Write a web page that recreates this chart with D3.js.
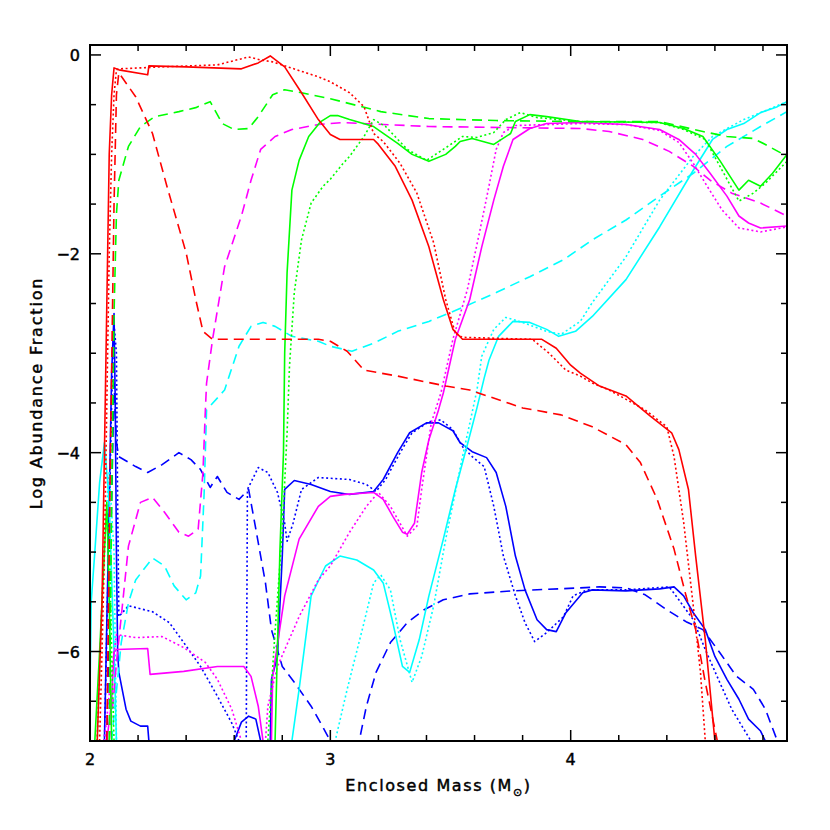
<!DOCTYPE html>
<html><head><meta charset="utf-8">
<script src="https://cdn.jsdelivr.net/npm/d3@7/dist/d3.min.js"></script>
<style>body{margin:0;background:#fff}</style>
</head><body>
<svg id="chart" width="830" height="830"></svg>
<script>
// ---------- data (Enclosed Mass [Msun], Log Abundance Fraction) ----------
const xDomain = [2, 4.9];
const yDomain = [-6.9, 0.1];
const xTickLabels = [2, 3, 4];
const yTickLabels = [0, -2, -4, -6];
const OFF = -7.5; // below the plotted range (clipped)

const redSolid = [[2.03,-6.9],[2.04,-6.2],[2.05,-5.5],[2.06,-4.0],[2.07,-2.5],[2.08,-1.0],[2.09,-0.4],[2.1,-0.13],[2.12,-0.15],[2.24,-0.2],[2.245,-0.11],[2.4,-0.12],[2.63,-0.14],[2.7,-0.08],[2.75,-0.01],[2.81,-0.12],[2.88,-0.38],[2.95,-0.65],[3.0,-0.8],[3.04,-0.85],[3.18,-0.85],[3.2,-0.9],[3.27,-1.12],[3.34,-1.46],[3.41,-1.93],[3.47,-2.46],[3.51,-2.76],[3.55,-2.86],[3.88,-2.86],[3.94,-2.95],[4.0,-3.12],[4.04,-3.2],[4.12,-3.33],[4.23,-3.43],[4.33,-3.63],[4.42,-3.8],[4.45,-3.97],[4.49,-4.37],[4.52,-5.04],[4.56,-5.88],[4.6,-6.9]];
const redDotted = [[2.04,-6.9],[2.05,-6.0],[2.06,-5.0],[2.07,-3.5],[2.08,-2.0],[2.09,-1.0],[2.1,-0.4],[2.11,-0.15],[2.12,-0.14],[2.3,-0.12],[2.53,-0.1],[2.66,-0.02],[2.71,-0.05],[2.76,-0.07],[2.95,-0.22],[3.0,-0.27],[3.08,-0.38],[3.14,-0.52],[3.18,-0.79],[3.22,-0.87],[3.29,-1.09],[3.36,-1.39],[3.43,-1.89],[3.48,-2.46],[3.52,-2.8],[3.55,-2.84],[3.84,-2.86],[3.91,-3.0],[3.98,-3.17],[4.04,-3.23],[4.09,-3.3],[4.16,-3.37],[4.22,-3.45],[4.31,-3.57],[4.4,-3.74],[4.43,-4.04],[4.47,-4.7],[4.51,-5.54],[4.54,-6.21],[4.56,-6.9]];
const redDashed = [[2.07,-6.9],[2.085,-4.0],[2.1,-1.5],[2.11,-0.4],[2.12,-0.18],[2.19,-0.42],[2.26,-0.79],[2.32,-1.32],[2.4,-1.99],[2.44,-2.46],[2.47,-2.78],[2.51,-2.86],[2.95,-2.86],[3.0,-2.88],[3.07,-2.98],[3.14,-3.17],[3.28,-3.23],[3.48,-3.33],[3.58,-3.37],[3.8,-3.55],[3.96,-3.62],[4.09,-3.74],[4.23,-3.92],[4.29,-4.1],[4.36,-4.47],[4.43,-4.97],[4.48,-5.44],[4.52,-5.78],[4.56,-6.31],[4.61,-6.9]];

const greenSolid = [[2.02,-6.9],[2.04,-6.0],[2.06,-5.0],[2.07,-4.5],[2.08,-5.5],[2.09,-6.9],[2.1,OFF],[2.76,OFF],[2.77,-6.9],[2.79,-5.0],[2.805,-4.0],[2.81,-3.0],[2.82,-2.19],[2.84,-1.36],[2.87,-1.06],[2.91,-0.82],[2.96,-0.67],[3.0,-0.61],[3.03,-0.61],[3.08,-0.65],[3.18,-0.72],[3.28,-0.89],[3.34,-1.0],[3.41,-1.07],[3.48,-1.0],[3.52,-0.92],[3.54,-0.87],[3.59,-0.84],[3.68,-0.9],[3.75,-0.79],[3.77,-0.67],[3.83,-0.6],[3.9,-0.62],[4.04,-0.67],[4.37,-0.68],[4.47,-0.74],[4.55,-0.82],[4.62,-1.06],[4.7,-1.36],[4.74,-1.26],[4.79,-1.32],[4.84,-1.19],[4.9,-1.0]];
const greenDotted = [[2.03,-6.9],[2.05,-5.5],[2.06,-4.9],[2.07,-4.6],[2.08,-4.8],[2.09,-6.0],[2.1,-6.9],[2.11,OFF],[2.73,OFF],[2.74,-6.9],[2.77,-5.8],[2.8,-4.8],[2.82,-3.8],[2.83,-3.13],[2.85,-2.39],[2.88,-1.86],[2.92,-1.49],[2.97,-1.32],[3.0,-1.25],[3.05,-1.1],[3.08,-1.02],[3.14,-0.82],[3.18,-0.65],[3.23,-0.72],[3.32,-0.95],[3.4,-1.06],[3.47,-0.95],[3.55,-0.82],[3.61,-0.83],[3.68,-0.78],[3.73,-0.65],[3.79,-0.58],[3.86,-0.63],[4.04,-0.67],[4.37,-0.68],[4.47,-0.75],[4.56,-0.85],[4.63,-1.16],[4.7,-1.47],[4.76,-1.39],[4.81,-1.29],[4.9,-1.07]];
const greenDashed = [[2.08,-6.9],[2.09,-4.5],[2.1,-2.6],[2.11,-1.6],[2.12,-1.26],[2.16,-0.92],[2.21,-0.72],[2.27,-0.62],[2.37,-0.57],[2.44,-0.53],[2.5,-0.47],[2.55,-0.69],[2.6,-0.75],[2.66,-0.74],[2.7,-0.62],[2.76,-0.4],[2.81,-0.35],[2.88,-0.38],[3.0,-0.44],[3.21,-0.57],[3.41,-0.64],[3.69,-0.66],[4.04,-0.67],[4.37,-0.67],[4.55,-0.77],[4.65,-0.82],[4.76,-0.84],[4.81,-0.9],[4.9,-1.02]];

const magentaSolid = [[2.07,-6.9],[2.09,-6.5],[2.1,-6.0],[2.11,-5.98],[2.24,-5.97],[2.25,-6.23],[2.39,-6.2],[2.53,-6.15],[2.64,-6.15],[2.67,-6.25],[2.7,-6.55],[2.72,-6.9],[2.73,OFF],[2.75,OFF],[2.755,-6.9],[2.76,-6.25],[2.81,-5.44],[2.87,-4.87],[2.95,-4.54],[3.0,-4.44],[3.06,-4.42],[3.18,-4.4],[3.22,-4.47],[3.26,-4.64],[3.3,-4.8],[3.32,-4.82],[3.35,-4.71],[3.38,-4.2],[3.41,-3.87],[3.45,-3.57],[3.47,-3.4],[3.52,-2.86],[3.58,-2.46],[3.63,-1.93],[3.68,-1.46],[3.72,-1.12],[3.76,-0.85],[3.83,-0.74],[3.9,-0.69],[4.04,-0.68],[4.23,-0.7],[4.37,-0.75],[4.45,-0.85],[4.52,-1.0],[4.58,-1.19],[4.65,-1.42],[4.7,-1.62],[4.74,-1.69],[4.79,-1.74],[4.9,-1.72]];
const magentaDotted = [[2.06,-6.9],[2.09,-6.2],[2.11,-5.83],[2.19,-5.86],[2.3,-5.85],[2.39,-5.96],[2.48,-6.11],[2.53,-6.28],[2.59,-6.58],[2.63,-6.9],[2.64,OFF],[2.72,OFF],[2.73,-6.9],[2.74,-6.55],[2.78,-6.15],[2.87,-5.65],[2.95,-5.28],[3.0,-5.14],[3.08,-4.8],[3.15,-4.54],[3.2,-4.4],[3.25,-4.54],[3.29,-4.71],[3.32,-4.84],[3.36,-4.74],[3.38,-4.37],[3.42,-3.7],[3.46,-3.4],[3.51,-2.86],[3.57,-2.36],[3.62,-1.79],[3.66,-1.32],[3.69,-0.95],[3.72,-0.78],[3.77,-0.71],[4.04,-0.69],[4.23,-0.7],[4.37,-0.76],[4.45,-0.88],[4.51,-1.09],[4.56,-1.29],[4.63,-1.56],[4.7,-1.74],[4.79,-1.78],[4.9,-1.73]];
const magentaDashed = [[2.08,-6.9],[2.1,-6.4],[2.11,-6.11],[2.13,-5.65],[2.16,-4.94],[2.21,-4.5],[2.26,-4.45],[2.31,-4.6],[2.37,-4.8],[2.41,-4.84],[2.45,-4.77],[2.47,-4.2],[2.48,-3.57],[2.485,-3.3],[2.51,-2.86],[2.56,-2.13],[2.63,-1.62],[2.67,-1.26],[2.71,-0.95],[2.77,-0.82],[2.84,-0.75],[2.95,-0.7],[3.05,-0.68],[3.41,-0.72],[4.04,-0.74],[4.16,-0.77],[4.3,-0.85],[4.41,-0.97],[4.51,-1.12],[4.58,-1.26],[4.67,-1.39],[4.79,-1.49],[4.9,-1.62]];

const cyanSolid = [[2.0,-6.4],[2.005,-5.5],[2.02,-5.0],[2.04,-4.3],[2.06,-3.9],[2.08,-4.5],[2.1,-6.0],[2.11,-6.9],[2.12,OFF],[2.83,OFF],[2.84,-6.9],[2.87,-6.38],[2.92,-5.44],[2.98,-5.14],[3.04,-5.04],[3.11,-5.08],[3.18,-5.18],[3.22,-5.31],[3.26,-5.71],[3.3,-6.15],[3.33,-6.21],[3.37,-5.88],[3.41,-5.44],[3.47,-4.87],[3.52,-4.37],[3.57,-3.92],[3.61,-3.55],[3.64,-3.25],[3.66,-3.07],[3.7,-2.83],[3.76,-2.68],[3.83,-2.69],[3.9,-2.76],[3.95,-2.83],[4.02,-2.78],[4.09,-2.63],[4.23,-2.26],[4.37,-1.73],[4.51,-1.16],[4.59,-0.85],[4.65,-0.75],[4.72,-0.69],[4.79,-0.58],[4.86,-0.52],[4.9,-0.47]];
const cyanDotted = [[2.03,-6.9],[2.05,-5.5],[2.07,-4.5],[2.08,-4.2],[2.1,-5.0],[2.11,-6.9],[2.12,OFF],[3.01,OFF],[3.02,-6.9],[3.07,-6.38],[3.14,-5.71],[3.18,-5.31],[3.21,-5.23],[3.25,-5.38],[3.29,-5.88],[3.34,-6.31],[3.38,-6.05],[3.43,-5.54],[3.48,-4.87],[3.55,-4.04],[3.61,-3.37],[3.63,-3.03],[3.68,-2.76],[3.73,-2.64],[3.8,-2.69],[3.9,-2.78],[3.96,-2.81],[4.04,-2.68],[4.09,-2.49],[4.23,-2.03],[4.37,-1.46],[4.51,-1.02],[4.59,-0.82],[4.72,-0.65],[4.9,-0.47]];
const cyanDashed = [[2.09,-6.9],[2.11,-6.4],[2.13,-5.91],[2.16,-5.51],[2.19,-5.28],[2.26,-5.06],[2.31,-5.14],[2.35,-5.34],[2.4,-5.48],[2.44,-5.41],[2.46,-5.24],[2.475,-4.4],[2.485,-3.57],[2.56,-3.37],[2.62,-2.93],[2.67,-2.73],[2.72,-2.69],[2.77,-2.73],[2.84,-2.83],[2.95,-2.88],[3.0,-2.93],[3.09,-2.98],[3.18,-2.9],[3.28,-2.78],[3.41,-2.68],[3.55,-2.54],[3.69,-2.39],[3.83,-2.23],[3.97,-2.06],[4.09,-1.86],[4.23,-1.66],[4.37,-1.42],[4.51,-1.19],[4.65,-0.92],[4.79,-0.72],[4.9,-0.57]];

const blueSolid = [[2.06,-6.9],[2.08,-4.5],[2.09,-3.2],[2.1,-2.6],[2.105,-3.5],[2.11,-5.0],[2.115,-6.0],[2.12,-6.21],[2.15,-6.58],[2.17,-6.7],[2.21,-6.75],[2.24,-6.75],[2.245,-6.9],[2.25,OFF],[2.59,OFF],[2.6,-6.9],[2.63,-6.71],[2.66,-6.65],[2.69,-6.68],[2.71,-6.9],[2.72,OFF],[2.74,OFF],[2.75,-6.9],[2.755,-6.28],[2.78,-6.05],[2.8,-5.04],[2.81,-4.37],[2.85,-4.28],[2.92,-4.32],[3.0,-4.39],[3.08,-4.42],[3.18,-4.39],[3.22,-4.27],[3.28,-4.0],[3.33,-3.8],[3.4,-3.7],[3.45,-3.7],[3.51,-3.78],[3.54,-3.9],[3.59,-3.99],[3.65,-4.05],[3.69,-4.2],[3.73,-4.54],[3.77,-5.04],[3.81,-5.38],[3.86,-5.68],[3.9,-5.78],[3.94,-5.8],[3.98,-5.61],[4.05,-5.41],[4.09,-5.38],[4.23,-5.39],[4.37,-5.37],[4.43,-5.35],[4.47,-5.44],[4.51,-5.61],[4.56,-5.78],[4.6,-6.05],[4.65,-6.28],[4.7,-6.48],[4.74,-6.68],[4.79,-6.8],[4.81,-6.9]];
const blueDotted = [[2.06,-6.9],[2.09,-3.5],[2.1,-2.7],[2.11,-3.0],[2.115,-4.5],[2.12,-5.65],[2.16,-5.54],[2.26,-5.6],[2.33,-5.71],[2.39,-5.91],[2.46,-6.15],[2.53,-6.45],[2.59,-6.72],[2.62,-6.9],[2.63,OFF],[2.645,OFF],[2.65,-6.9],[2.655,-4.37],[2.7,-4.15],[2.74,-4.2],[2.78,-4.4],[2.81,-4.71],[2.82,-4.89],[2.845,-4.71],[2.88,-4.37],[2.95,-4.25],[3.08,-4.27],[3.15,-4.32],[3.19,-4.39],[3.23,-4.27],[3.29,-4.0],[3.34,-3.8],[3.41,-3.69],[3.46,-3.67],[3.51,-3.77],[3.55,-3.94],[3.59,-4.04],[3.64,-4.14],[3.68,-4.54],[3.72,-5.04],[3.77,-5.44],[3.81,-5.71],[3.85,-5.9],[3.9,-5.81],[3.97,-5.65],[4.01,-5.44],[4.07,-5.38],[4.23,-5.38],[4.41,-5.35],[4.45,-5.48],[4.51,-5.68],[4.56,-5.98],[4.62,-6.31],[4.67,-6.58],[4.72,-6.78],[4.75,-6.9]];
const blueDashed = [[2.07,-6.9],[2.09,-4.5],[2.1,-3.3],[2.11,-3.9],[2.12,-4.04],[2.19,-4.14],[2.24,-4.2],[2.3,-4.12],[2.37,-4.0],[2.42,-4.07],[2.46,-4.17],[2.5,-4.35],[2.53,-4.24],[2.57,-4.4],[2.62,-4.47],[2.66,-4.37],[2.69,-4.77],[2.73,-5.31],[2.755,-5.78],[2.8,-6.15],[2.85,-6.31],[2.92,-6.55],[2.96,-6.72],[3.0,-6.9],[3.02,OFF],[3.1,OFF],[3.12,-6.9],[3.15,-6.55],[3.19,-6.21],[3.25,-5.91],[3.32,-5.71],[3.39,-5.58],[3.47,-5.48],[3.58,-5.42],[3.76,-5.39],[4.04,-5.36],[4.12,-5.35],[4.23,-5.36],[4.31,-5.43],[4.4,-5.58],[4.48,-5.7],[4.55,-5.78],[4.62,-6.01],[4.69,-6.25],[4.76,-6.38],[4.81,-6.58],[4.86,-6.9]];

// ---------- styling (kept apart from the data) ----------
const COLORS = {red:'#ff0000', green:'#00ff00', magenta:'#ff00ff', cyan:'#00ffff', blue:'#0000ff'};
const DASH = {solid:null, dotted:'2,2.6', dashed:'10,6'};
const series = [
  [blueSolid,'blue','solid'],[blueDotted,'blue','dotted'],[blueDashed,'blue','dashed'],
  [cyanSolid,'cyan','solid'],[cyanDotted,'cyan','dotted'],[cyanDashed,'cyan','dashed'],
  [magentaSolid,'magenta','solid'],[magentaDotted,'magenta','dotted'],[magentaDashed,'magenta','dashed'],
  [greenSolid,'green','solid'],[greenDotted,'green','dotted'],[greenDashed,'green','dashed'],
  [redSolid,'red','solid'],[redDotted,'red','dotted'],[redDashed,'red','dashed']
];

// ---------- layout ----------
const L = 90, R = 787, T = 45, B = 741;
const svg = d3.select('#chart');
const x = d3.scaleLinear().domain(xDomain).range([L, R]);
const y = d3.scaleLinear().domain(yDomain).range([B, T]);

svg.append('defs').append('clipPath').attr('id','plotclip')
  .append('rect').attr('x',L).attr('y',T).attr('width',R-L).attr('height',B-T);

const line = d3.line().x(d => x(d[0])).y(d => y(d[1]));
const g = svg.append('g').attr('clip-path','url(#plotclip)');
series.forEach(([data,col,sty]) => {
  g.append('path').attr('d', line(data)).attr('fill','none')
    .attr('stroke', COLORS[col]).attr('stroke-width', 1.6)
    .attr('stroke-linejoin','round')
    .attr('stroke-dasharray', DASH[sty]);
});

// ---------- axes (ticks inward on all sides) ----------
const xMinor = d3.range(2, 4.9, 0.2).map(v => +v.toFixed(2));
const yMinor = d3.range(0, -6.9, -0.5).map(v => +v.toFixed(2));
const MAJ = 11, MIN = 6;
const ax = svg.append('g').attr('stroke','#000').attr('stroke-width',1.5);
xMinor.forEach(v => {
  const len = xTickLabels.includes(v) ? MAJ : MIN;
  ax.append('line').attr('x1',x(v)).attr('x2',x(v)).attr('y1',B).attr('y2',B-len);
  ax.append('line').attr('x1',x(v)).attr('x2',x(v)).attr('y1',T).attr('y2',T+len);
});
yMinor.forEach(v => {
  const len = yTickLabels.includes(v) ? MAJ : MIN;
  ax.append('line').attr('y1',y(v)).attr('y2',y(v)).attr('x1',L).attr('x2',L+len);
  ax.append('line').attr('y1',y(v)).attr('y2',y(v)).attr('x1',R).attr('x2',R-len);
});
svg.append('rect').attr('x',L).attr('y',T).attr('width',R-L).attr('height',B-T)
  .attr('fill','none').attr('stroke','#000').attr('stroke-width',2);

const FONT = '"DejaVu Sans", sans-serif';
const TXT = s => s.attr('font-family',FONT).attr('font-size',16)
  .attr('fill','#000').attr('stroke','#000').attr('stroke-width',0.45);
const fmt = v => (v < 0 ? '\u2212' : '') + Math.abs(v);
svg.append('g').selectAll('text').data(xTickLabels).join('text')
  .attr('x', d => x(d)).attr('y', 765).attr('text-anchor','middle')
  .call(TXT).text(d => fmt(d));
svg.append('g').selectAll('text').data(yTickLabels).join('text')
  .attr('x', 80).attr('y', d => y(d) + 6).attr('text-anchor','end')
  .call(TXT).text(d => fmt(d));

const xt = svg.append('text').attr('x',(L+R)/2).attr('y',791).attr('text-anchor','middle')
  .call(TXT).attr('letter-spacing',1.6);
xt.append('tspan').text('Enclosed Mass (M');
xt.append('tspan').attr('font-size',11).attr('dy',5).text('\u2299');
xt.append('tspan').attr('dy',-5).text(')');

svg.append('text').attr('transform',`translate(42,${(T+B)/2}) rotate(-90)`)
  .attr('text-anchor','middle').call(TXT)
  .attr('letter-spacing',1.8).text('Log Abundance Fraction');
</script>
</body></html>
